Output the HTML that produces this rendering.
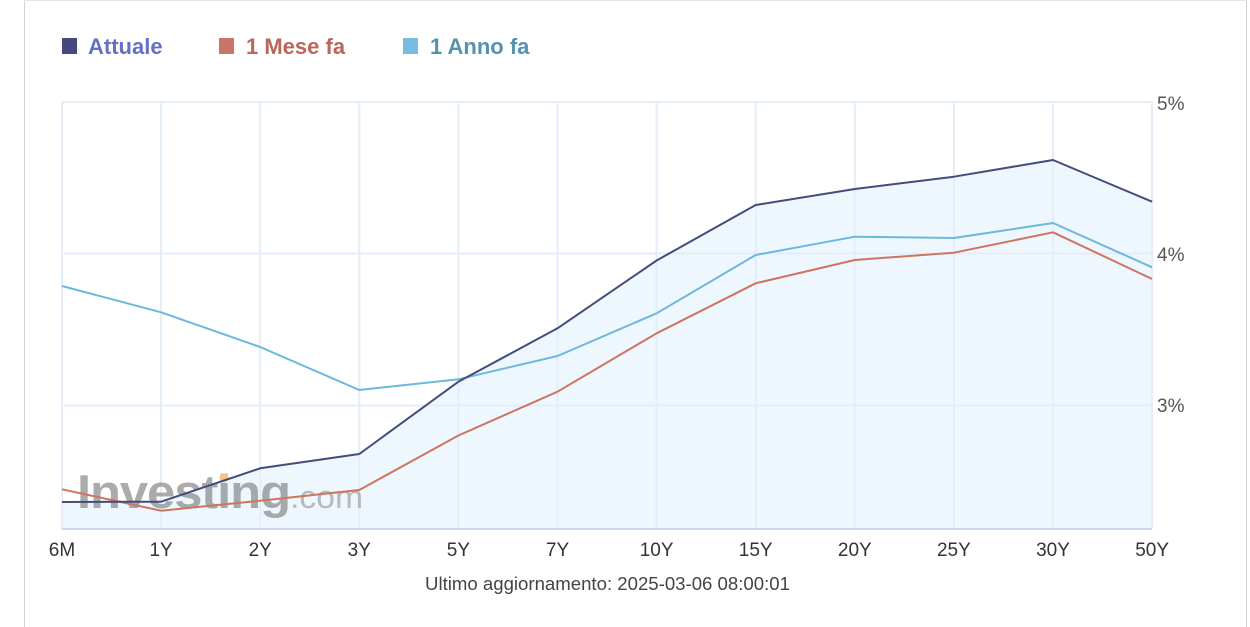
<!DOCTYPE html>
<html>
<head>
<meta charset="utf-8">
<style>
  html, body { margin:0; padding:0; background:#fff; }
  body { width:1250px; height:627px; overflow:hidden; position:relative; font-family:"Liberation Sans", Arial, sans-serif; }
  svg { position:absolute; left:0; top:0; }
</style>
</head>
<body>
<svg width="1250" height="627" viewBox="0 0 1250 627" xmlns="http://www.w3.org/2000/svg" font-family="Liberation Sans, Arial, sans-serif">
  <!-- container border -->
  <line x1="24.5" y1="0" x2="24.5" y2="627" stroke="#d4d4d4" stroke-width="1"/>
  <line x1="1246.5" y1="0" x2="1246.5" y2="627" stroke="#d4d4d4" stroke-width="1"/>
  <line x1="24" y1="0.5" x2="1247" y2="0.5" stroke="#e6e6e6" stroke-width="1"/>

  <!-- legend -->
  <rect x="62" y="38" width="15" height="16" fill="#434a7c"/>
  <text x="88" y="54" font-size="22" font-weight="bold" fill="#6470c4">Attuale</text>
  <rect x="219" y="38" width="15" height="16" fill="#c9756a"/>
  <text x="246" y="54" font-size="22" font-weight="bold" fill="#b9675a">1 Mese fa</text>
  <rect x="403" y="38" width="15" height="16" fill="#78bde0"/>
  <text x="430" y="54" font-size="22" font-weight="bold" fill="#5592ae">1 Anno fa</text>

  <!-- fill under Attuale -->
  <polygon fill="#eef7fe" points="62,502 161.1,501.7 260.2,468.3 359.3,454 458.4,381.7 557.5,328.3 656.6,260.5 755.7,205 854.8,189 953.9,176.7 1053,160 1152.1,201.7 1152.1,529 62,529"/>

  <!-- grid -->
  <g stroke="#e4edf8" stroke-width="2" fill="none">
    <line x1="62" y1="102" x2="1152" y2="102"/>
    <line x1="62" y1="253.5" x2="1152" y2="253.5"/>
    <line x1="62" y1="405.5" x2="1152" y2="405.5"/>
    <line x1="62" y1="102" x2="62" y2="529"/>
    <line x1="161.1" y1="102" x2="161.1" y2="529"/>
    <line x1="260.2" y1="102" x2="260.2" y2="529"/>
    <line x1="359.3" y1="102" x2="359.3" y2="529"/>
    <line x1="458.4" y1="102" x2="458.4" y2="529"/>
    <line x1="557.5" y1="102" x2="557.5" y2="529"/>
    <line x1="656.6" y1="102" x2="656.6" y2="529"/>
    <line x1="755.7" y1="102" x2="755.7" y2="529"/>
    <line x1="854.8" y1="102" x2="854.8" y2="529"/>
    <line x1="953.9" y1="102" x2="953.9" y2="529"/>
    <line x1="1053" y1="102" x2="1053" y2="529"/>
    <line x1="1152.1" y1="102" x2="1152.1" y2="529"/>
  </g>
  <line x1="62" y1="529" x2="1152" y2="529" stroke="#ccd6eb" stroke-width="2"/>

  <!-- watermark -->
  <g opacity="0.75">
    <text x="77" y="508" font-size="47" font-weight="bold" fill="#8f8f8f" textLength="213" lengthAdjust="spacingAndGlyphs" letter-spacing="-1">Investing</text>
    <text x="290" y="508" font-size="32" fill="#a6a6a6" textLength="73" lengthAdjust="spacingAndGlyphs">.com</text>
    <circle cx="224" cy="478" r="4.5" fill="#f5b35a"/>
  </g>

  <!-- series -->
  <polyline fill="none" stroke="#6cb8dc" stroke-width="2" stroke-linejoin="round"
    points="62,286 161.1,312.3 260.2,347 359.3,390 458.4,379.3 557.5,356 656.6,313.3 755.7,255 854.8,236.7 953.9,238 1053,223 1152.1,267.3"/>
  <polyline fill="none" stroke="#cf7461" stroke-width="2" stroke-linejoin="round"
    points="62,489.3 161.1,510.7 260.2,500.7 359.3,490 458.4,435.5 557.5,391.7 656.6,333.3 755.7,283.3 854.8,260 953.9,252.7 1053,232.3 1152.1,279"/>
  <polyline fill="none" stroke="#444c7c" stroke-width="2" stroke-linejoin="round"
    points="62,502 161.1,501.7 260.2,468.3 359.3,454 458.4,381.7 557.5,328.3 656.6,260.5 755.7,205 854.8,189 953.9,176.7 1053,160 1152.1,201.7"/>

  <!-- y labels -->
  <g font-size="19" fill="#555">
    <text x="1157" y="110">5%</text>
    <text x="1157" y="261">4%</text>
    <text x="1157" y="412">3%</text>
  </g>

  <!-- x labels -->
  <g font-size="19" fill="#333" text-anchor="middle">
    <text x="62" y="556">6M</text>
    <text x="161.1" y="556">1Y</text>
    <text x="260.2" y="556">2Y</text>
    <text x="359.3" y="556">3Y</text>
    <text x="458.4" y="556">5Y</text>
    <text x="557.5" y="556">7Y</text>
    <text x="656.6" y="556">10Y</text>
    <text x="755.7" y="556">15Y</text>
    <text x="854.8" y="556">20Y</text>
    <text x="953.9" y="556">25Y</text>
    <text x="1053" y="556">30Y</text>
    <text x="1152.1" y="556">50Y</text>
  </g>

  <text x="607.5" y="590" font-size="18.6" fill="#444" text-anchor="middle">Ultimo aggiornamento: 2025-03-06 08:00:01</text>
</svg>
</body>
</html>
